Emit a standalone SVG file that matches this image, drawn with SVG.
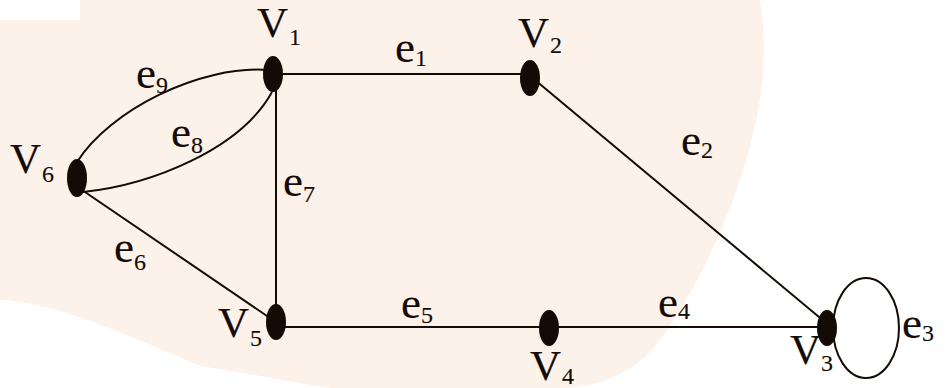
<svg xmlns="http://www.w3.org/2000/svg" width="950" height="388" viewBox="0 0 950 388">
<style>
.bg{fill:#fdf2ea}
.node{fill:#140b06}
.edge{fill:none;stroke:#140b06;stroke-width:2}
text{font-family:"Liberation Serif","Times New Roman",serif;fill:#140b06;stroke:#140b06;stroke-width:0.15}
.v{font-size:43px}
.e{font-size:45px}
.sub{font-size:24px}
</style>
<rect width="950" height="388" fill="#ffffff"/>
<path class="bg" d="M0,20 L80,20 L80,0 L760,0 C770,60 760,120 740,180 C720,240 690,300 660,340 C640,370 600,388 560,388 L330,388 C280,380 240,372 200,366 C150,345 100,322 50,308 C30,303 10,300 0,300 Z"/>
<g id="connectors">
<line class="edge" x1="273" y1="74" x2="530" y2="74"/>
<line class="edge" x1="535" y1="80" x2="825" y2="322"/>
<line class="edge" x1="276" y1="80" x2="276" y2="322"/>
<line class="edge" x1="276" y1="327" x2="827" y2="327"/>
<line class="edge" x1="82" y1="190" x2="270" y2="318"/>
<path class="edge" d="M77,162 C110,110 200,65 268,70"/>
<path class="edge" d="M83,192 C150,185 240,150 272,92"/>
<ellipse class="edge" cx="866" cy="328" rx="33" ry="50"/>
</g>
<g id="edge-labels">
<text class="e" x="395" y="62">e<tspan class="sub" x="415" y="66">1</tspan></text>
<text class="e" x="681" y="155">e<tspan class="sub" x="701" y="158">2</tspan></text>
<text class="e" x="902" y="338">e<tspan class="sub" x="922" y="341">3</tspan></text>
<text class="e" x="658" y="317">e<tspan class="sub" x="678" y="319">4</tspan></text>
<text class="e" x="401" y="318">e<tspan class="sub" x="421" y="323">5</tspan></text>
<text class="e" x="114" y="262">e<tspan class="sub" x="134" y="270">6</tspan></text>
<text class="e" x="283" y="196">e<tspan class="sub" x="303" y="202">7</tspan></text>
<text class="e" x="171" y="147">e<tspan class="sub" x="191" y="153">8</tspan></text>
<text class="e" x="136" y="88">e<tspan class="sub" x="156" y="93">9</tspan></text>
</g>
<g id="v1"><ellipse class="node" cx="273" cy="74" rx="10" ry="18"/><text class="v" x="257" y="37">V<tspan class="sub" x="289" y="45">1</tspan></text></g>
<g id="v2"><ellipse class="node" cx="530" cy="78" rx="10" ry="18"/><text class="v" x="518" y="47">V<tspan class="sub" x="550" y="53">2</tspan></text></g>
<g id="v3"><ellipse class="node" cx="827" cy="328" rx="10" ry="18"/><text class="v" x="790" y="364">V<tspan class="sub" x="821" y="371">3</tspan></text></g>
<g id="v4"><ellipse class="node" cx="549" cy="328" rx="10" ry="18"/><text class="v" x="530" y="380">V<tspan class="sub" x="562" y="384">4</tspan></text></g>
<g id="v5"><ellipse class="node" cx="276" cy="322" rx="10" ry="18"/><text class="v" x="218" y="337">V<tspan class="sub" x="250" y="346">5</tspan></text></g>
<g id="v6"><ellipse class="node" cx="77" cy="178" rx="10" ry="19"/><text class="v" x="10" y="173">V<tspan class="sub" x="42" y="182">6</tspan></text></g>
</svg>
